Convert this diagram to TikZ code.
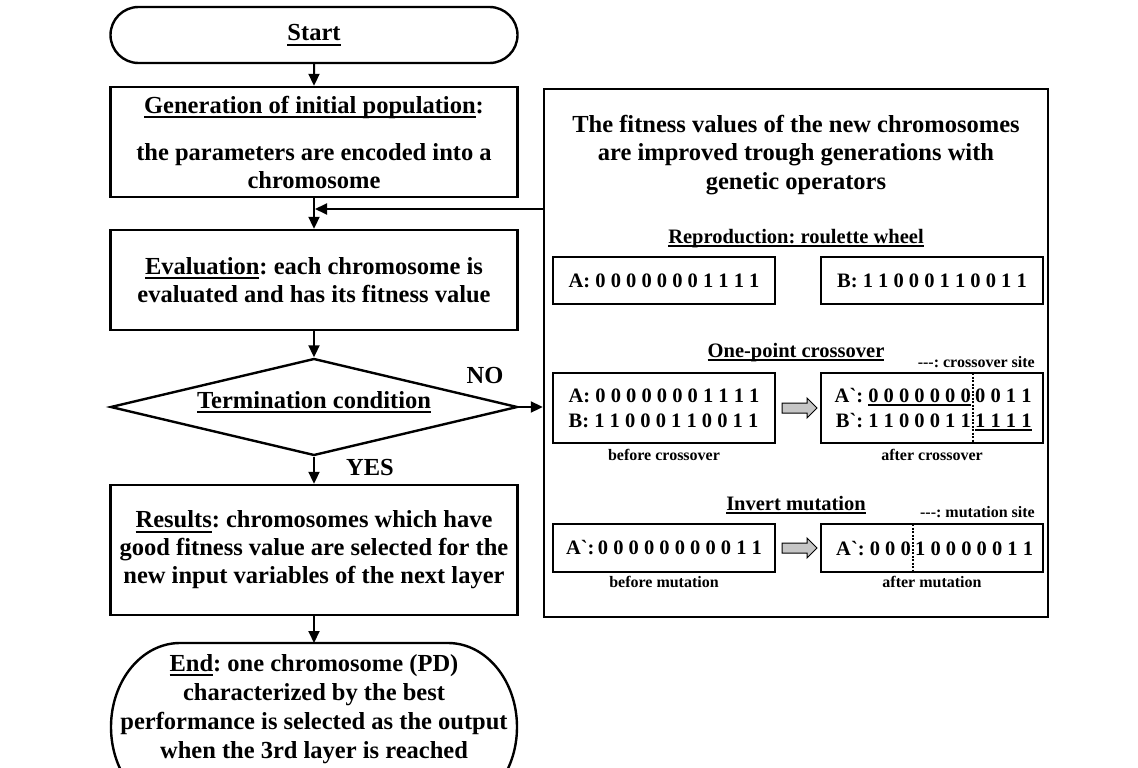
\documentclass[tikz,border=0pt]{standalone}
\usepackage{fontspec}
\setmainfont{Liberation Serif}
\newfontfamily\rawfont{Liberation Serif}
\usetikzlibrary{arrows.meta,shapes.geometric,shapes.misc}

\newcommand\bq{{\rawfont\symbol{96}}}
\newcommand\ul[1]{\setbox0=\hbox{#1}\rlap{\rule[-0.2em]{\wd0}{0.08em}}\box0}

\tikzset{
  flow/.style={draw,line width=2.4pt,minimum width=407pt,align=center,inner sep=0pt,
    font=\bfseries\fontsize{24.5}{28}\selectfont},
  bits/.style={draw,line width=2.4pt,minimum width=222pt,align=left,inner sep=0pt,
    font=\bfseries\fontsize{20.5}{25}\selectfont},
  big/.style={inner sep=0pt,font=\bfseries\fontsize{24.5}{28}\selectfont},
  head/.style={inner sep=0pt,font=\bfseries\fontsize{20.5}{24}\selectfont},
  txt/.style={inner sep=0pt,font=\bfseries\fontsize{20.5}{25}\selectfont},
  small/.style={inner sep=0pt,font=\bfseries\fontsize{16}{19}\selectfont},
  link/.style={-{Triangle[length=12pt,width=11pt]},line width=2pt},
  site/.style={line width=2pt,dash pattern=on 2pt off 1.5pt},
}

\begin{document}
\frenchspacing
\begin{tikzpicture}[x=1pt,y=-1pt]

  \useasboundingbox (0,0) rectangle (1138,768);
  \clip (0,0) rectangle (1138,768);
  \fill[white] (0,0) rectangle (1138,768);

  % main flow
  \node[flow,rounded rectangle,minimum height=56pt] (start) at (314,35) {\ul{Start}};
  \node[flow,minimum height=110pt] (gen) at (314,142)
    {\ul{Generation of initial population}:\\[19pt]the parameters are encoded into a\\chromosome};
  \node[flow,minimum height=100pt] (eval) at (314,280)
    {\ul{Evaluation}: each chromosome is\\evaluated and has its fitness value};
  \node[flow,diamond,shape aspect=4.2,minimum height=97pt] (term) at (314,407)
    {\raisebox{14pt}{\ul{Termination condition}}};
  \node[flow,minimum height=130pt] (res) at (314,550)
    {\ul{Results}: chromosomes which have\\good fitness value are selected for the\\new input variables of the next layer};

  \draw[line width=2.4pt] (180,643) -- (448,643)
    arc[start angle=-90,end angle=90,x radius=69,y radius=84] -- (180,811)
    arc[start angle=90,end angle=270,x radius=69,y radius=84] -- cycle;
  \node[big,align=center,font=\bfseries\fontsize{24.5}{29}\selectfont] (finish) at (314,709)
    {\ul{End}: one chromosome (PD)\\characterized by the best\\performance is selected as the output\\when the 3rd layer is reached};
  \coordinate (endtop) at (314,643);

  \node[big,anchor=base] (no) at (485,383) {NO};
  \node[big,anchor=base] (yes) at (370,475) {YES};

  % genetic operators
  \node[draw,line width=2.4pt,minimum width=504pt,minimum height=528pt,inner sep=0pt] (panel) at (796,353) {};
  \node[big,align=center,font=\bfseries\fontsize{24.5}{28.5}\selectfont] (title) at (796,155)
    {The fitness values of the new chromosomes\\are improved trough generations with\\genetic operators};

  \node[head,anchor=base] (repro) at (796,243) {\ul{Reproduction: roulette wheel}};
  \node[bits,minimum height=47pt] (ra) at (664,280.5) {A: 0 0 0 0 0 0 0 1 1 1 1};
  \node[bits,minimum height=47pt] (rb) at (932,280.5) {B: 1 1 0 0 0 1 1 0 0 1 1};

  \node[head,anchor=base] (cross) at (796,357) {\ul{One-point crossover}};
  \node[small,anchor=base east] (cxsite) at (1035,367) {{\rawfont---}: crossover site};
  \node[bits,minimum height=70pt] (cxa) at (664,408) {A: 0 0 0 0 0 0 0 1 1 1 1\\B: 1 1 0 0 0 1 1 0 0 1 1};
  \node[bits,minimum height=70pt] (cxb) at (932,408) {};
  \node[txt,anchor=base east] (cxa1) at (971,402) {A\bq: \ul{0 0 0 0 0 0 0}};
  \node[txt,anchor=base west] (cxa2) at (975,402) {0 0 1 1};
  \node[txt,anchor=base east] (cxb1) at (971,427) {B\bq: 1 1 0 0 0 1 1};
  \node[txt,anchor=base west] (cxb2) at (975,427) {\ul{1 1 1 1}};
  \draw[site] (973,373) -- (973,443);
  \node[small,anchor=base] (cxbefore) at (664,460) {before crossover};
  \node[small,anchor=base] (cxafter) at (932,460) {after crossover};

  \node[head,anchor=base] (invert) at (796,510) {\ul{Invert mutation}};
  \node[small,anchor=base east] (mtsite) at (1035,517) {{\rawfont---}: mutation site};
  \node[bits,minimum height=48pt] (mta) at (664,548) {A\bq:\,0 0 0 0 0 0 0 0 0 1 1};
  \node[bits,minimum height=48pt] (mtb) at (932,548) {};
  \node[txt,anchor=base east] (mtb1) at (911,555) {A\bq: 0 0 0};
  \node[txt,anchor=base west] (mtb2) at (915,555) {1 0 0 0 0 0 1 1};
  \draw[site] (913,524) -- (913,572);
  \node[small,anchor=base] (mtbefore) at (664,587) {before mutation};
  \node[small,anchor=base] (mtafter) at (932,587) {after mutation};

  \foreach \y in {408,548}
    \draw[line width=1pt,fill=gray!45] (782,\y-5) -- (807,\y-5) -- (807,\y-10) -- (817,\y)
      -- (807,\y+10) -- (807,\y+5) -- (782,\y+5) -- cycle;

  % connectors
  \coordinate (loop) at (315,209);
  \draw[link] (start) -- (gen);
  \draw[link] (gen) -- (eval);
  \draw[link] (panel.west |- loop) -- (loop);
  \draw[link] (eval) -- (term);
  \draw[link] (term) -- (res);
  \draw[link] (res) -- (endtop);
  \draw[link] (term.east) -- (term.east -| panel.west);

\end{tikzpicture}
\end{document}
